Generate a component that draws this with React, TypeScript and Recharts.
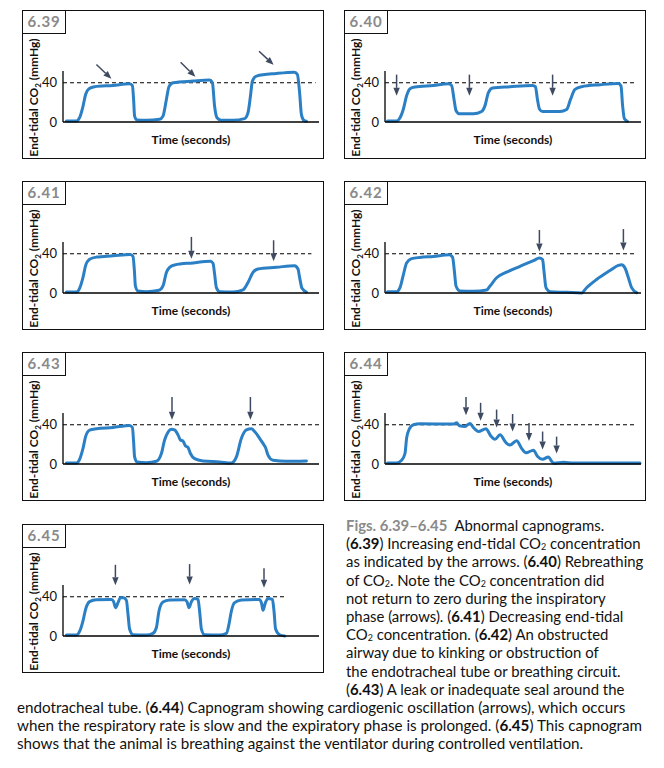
import React from "react";
import { LineChart, Line, XAxis, YAxis, ReferenceLine } from "recharts";

// capnogram traces: [time, end-tidal CO2 mmHg]
const trace639: [number, number][] = [
  [1.7, 1], [6.7, 1], [8.3, 4.4], [10, 16], [11.3, 28], [13, 34], [15.8, 36], [25, 37.3], [33.3, 39],
  [34.7, 37], [35.3, 23], [35.8, 6], [37, 2], [41.7, 1.7], [48.3, 2.7], [50, 6], [51.7, 23], [53, 36],
  [55, 40], [65, 41.7], [73.3, 42.7], [74.7, 40], [75.8, 16], [77, 4.4], [79.2, 1.7], [85, 1.7],
  [90.8, 3.4], [92.5, 9.5], [93.7, 26], [94.7, 41.7], [96.7, 46.8], [106.7, 49.5], [115.8, 50.8],
  [117.2, 48.5], [118.3, 30], [119.2, 7.8], [120.3, 2], [121.7, 0.7],
];
const trace640: [number, number][] = [
  [1.2, 1], [5.8, 1], [7.2, 3.3], [9.2, 13.3], [10.8, 26.7], [12.5, 34], [15, 35.7], [24.2, 37.3],
  [31.7, 39], [33.3, 37.3], [34.5, 23.3], [35.5, 11.7], [37.2, 8.3], [44.2, 8.3], [48.3, 10.7],
  [50, 16.7], [51.7, 30], [53.8, 34.7], [62.5, 36], [73.8, 37.3], [75.2, 36], [76.2, 23.3], [77.2, 13.3],
  [78.8, 10.7], [87.5, 10.7], [90.8, 12.7], [92.8, 23.3], [95, 33.3], [98.3, 36], [107.5, 38],
  [116.7, 39.3], [118, 36.7], [118.8, 16.7], [119.7, 3.3], [121.2, 0.7],
];
const trace641: [number, number][] = [
  [1.7, 1], [6.7, 1], [8.3, 4.8], [10, 15.9], [11.3, 27.9], [13.3, 34.5], [16.7, 36.6], [25, 37.9],
  [33.7, 39.3], [35, 37.2], [35.7, 22.8], [36.2, 7.2], [37.5, 2], [41.7, 1.4], [48, 2.8], [50, 7.2],
  [51.7, 21], [53.3, 26.2], [55.8, 28.6], [65, 30.7], [73.7, 32.4], [75, 30.3], [75.8, 19.3],
  [76.7, 5.5], [78.3, 1.4], [85, 1], [90, 3.1], [92.5, 10.7], [95, 21], [97.5, 24.5], [106.7, 26.2],
  [115.8, 27.9], [117.5, 24.5], [118.3, 15.9], [119.5, 4.8], [121.7, 1],
];
const trace642: [number, number][] = [
  [1.2, 1.3], [5.8, 1.3], [7.5, 5.4], [9.2, 18.8], [10.8, 30.6], [13.3, 35], [17.5, 36.3], [24.2, 37.3],
  [32.2, 39], [33.8, 36.3], [34.7, 22.2], [35.5, 7.1], [37.5, 2], [44.2, 1.7], [50.8, 3], [52.5, 7.1],
  [55.8, 15.5], [60.8, 21.2], [67.5, 27.2], [74.2, 32.9], [77.2, 35.6], [78.8, 34], [79.5, 22.2],
  [80.5, 5.4], [82.5, 1.3], [90.8, 0.7], [98.3, 0], [100.8, 5.4], [105.8, 13.8], [112.5, 22.9],
  [116.7, 28.2], [118.3, 28.9], [120, 25.5], [121.7, 15.5], [123.3, 5.4], [125.8, 0.3],
];
const trace643: [number, number][] = [
  [1.7, 1], [6.7, 1], [8.3, 4.8], [10, 15.9], [11.3, 27.9], [13.3, 34.5], [16.7, 35.9], [25, 37.2],
  [33.3, 39.3], [34.7, 37.2], [35.3, 22.8], [35.8, 7.2], [37, 2.1], [41.7, 1.4], [46.7, 2.8],
  [49.2, 10.7], [50.8, 24.5], [52.5, 32.4], [54.2, 35.5], [55.8, 34.8], [57.5, 29.7], [58.7, 24.5],
  [60, 23.4], [61.2, 18.6], [62.5, 16.9], [63.7, 10.7], [65.8, 5.5], [70, 3.1], [78.3, 2.1], [84.2, 1],
  [86.7, 7.2], [89.2, 26.2], [91.7, 34.8], [94.2, 35.9], [95.8, 33.1], [98.3, 26.2], [100, 21],
  [101.3, 16.6], [102.5, 9], [105, 3.8], [111.7, 2.8], [121.7, 3.1],
];
const trace644: [number, number][] = [
  [1.2, 1], [5.8, 1], [8.3, 3.8], [10, 10.7], [10.8, 26.2], [12.2, 35.9], [14.2, 40], [17.5, 41],
  [34.2, 40.7], [35.8, 42.1], [37.2, 39], [40, 38.3], [42.5, 41.4], [44.2, 37.2], [46.7, 33.1],
  [50.5, 35.9], [52.8, 28.9], [55, 25.2], [57.5, 29.7], [60.5, 21.7], [62.5, 19.3], [65.8, 23.8],
  [68.3, 15.9], [70.5, 11.4], [74.2, 14.1], [76.2, 7.9], [78.8, 4.8], [81.7, 7.2], [83.3, 2.8],
  [84.5, 0.7], [89.2, 1.7], [94.2, 1], [127.5, 1],
];
const trace645: [number, number][] = [
  [1.7, 1], [6.7, 1], [8.3, 4.7], [10, 15.5], [11.3, 27.2], [13.3, 35], [16.7, 37], [24.2, 37.3],
  [25.3, 35], [26.3, 28.9], [27.5, 34], [28.7, 39], [30.3, 39], [31.7, 36.3], [32.5, 22.2], [33.3, 7.1],
  [35, 1.3], [41.7, 1], [45, 2.7], [46.7, 8.7], [48, 25.5], [50, 34.6], [53.3, 36.6], [60.8, 37],
  [62, 35], [63, 28.9], [64.2, 35], [65.8, 38.3], [67.5, 37.3], [68.3, 25.5], [69.2, 7.1], [70.8, 1.3],
  [78.3, 1], [81.7, 2.7], [83, 12.1], [84.2, 25.5], [85.8, 34], [89.2, 36.6], [98, 37.3], [99.2, 34],
  [100, 26.2], [101.2, 34], [102.5, 38.3], [104.7, 37.3], [105.5, 25.5], [106.3, 7.1], [108.3, 1.3],
  [110.8, 0],
];

// arrows: [tailTime, tailCO2, tipTime, tipCO2]
const arrows639 = [[16.7, 58.6, 24.2, 44.1], [58.8, 61, 66.2, 46.1], [98, 72.2, 105.3, 58.3]];
const arrows640 = [[5.8, 48.3, 5.8, 26.7], [42.2, 48.3, 42.2, 26.7], [83.8, 48.3, 83.8, 26.7]];
const arrows641 = [[64.2, 57.2, 64.2, 34.8], [105.3, 53.8, 105.3, 32.4]];
const arrows642 = [[77.2, 64.2, 77.2, 42.4], [119.2, 65.2, 119.2, 43.4]];
const arrows643 = [[54.5, 68.3, 54.5, 45.2], [93.7, 68.3, 93.7, 45.2]];
const arrows644 = [
  [40.5, 68.3, 40.5, 49.7], [47.8, 62.4, 47.8, 44.1], [55.8, 55.5, 55.8, 37.2], [63.8, 51, 63.8, 33.1],
  [72, 41.7, 72, 23.4], [78.8, 33.1, 78.8, 14.8], [85.8, 27.9, 85.8, 10.7],
];
const arrows645 = [[26.2, 72.6, 26.2, 51.8], [63.3, 73.3, 63.3, 52.4], [100.5, 69.2, 100.5, 49.1]];

const yTicks = [0, 40];
const NORMAL_ETCO2 = 40;

const W = 302;
const H = 149;
const BLUE = "#2b80c5";
const ARROW = "#3e4a61";
const FONT = "Lato, 'Open Sans', sans-serif";

const ArrowShape = (props: any) => {
  const { x1, y1, x2, y2 } = props;
  const dx = x2 - x1;
  const dy = y2 - y1;
  const len = Math.sqrt(dx * dx + dy * dy) || 1;
  const ux = dx / len;
  const uy = dy / len;
  const hl = 8;
  const hw = 3.2;
  const bx = x2 - ux * hl;
  const by = y2 - uy * hl;
  return (
    <g>
      <line x1={x1} y1={y1} x2={bx} y2={by} stroke={ARROW} strokeWidth={1.5} />
      <polygon
        points={`${x2},${y2} ${bx - uy * hw},${by + ux * hw} ${bx + uy * hw},${by - ux * hw}`}
        fill={ARROW}
      />
    </g>
  );
};

const XLabel = (props: any) => {
  const vb = props.viewBox || { x: 41, y: 112, width: 256 };
  return (
    <text x={vb.x + vb.width / 2} y={vb.y + 21.5} textAnchor="middle" fontFamily={FONT} fontSize={12} fontWeight={700} fill="#111">
      Time (seconds)
    </text>
  );
};

const YLabel = (props: any) => {
  const vb = props.viewBox || { x: 11, y: 61, height: 51 };
  const x = 15.5;
  const y = vb.y + vb.height / 2 + 1;
  return (
    <text x={x} y={y} transform={`rotate(-90, ${x}, ${y})`} textAnchor="middle" fontFamily={FONT} fontSize={12} fontWeight={700} fill="#111">
      End-tidal CO<tspan fontSize={8} dy={3}>2</tspan>
      <tspan dy={-3}> (mmHg)</tspan>
    </text>
  );
};

function Panel({ name, trace, arrows, dashEnd, left, top }: any) {
  const data = trace.map(([t, v]: [number, number]) => ({ t, v }));
  return (
    <div style={{ position: "absolute", left, top, width: W, height: H }}>
      <LineChart width={W} height={H} data={data} margin={{ top: 61, right: 5, bottom: 0, left: 11 }}>
        <XAxis
          type="number"
          dataKey="t"
          domain={[0, 128]}
          tick={false}
          tickLine={false}
          axisLine={{ stroke: "#000", strokeWidth: 1.3 }}
          height={37}
          label={<XLabel />}
        />
        <YAxis
          type="number"
          domain={[0, 52]}
          ticks={yTicks}
          width={30}
          tickLine={false}
          tickSize={0}
          tickMargin={6}
          axisLine={{ stroke: "#000", strokeWidth: 1.3 }}
          tick={{ fill: "#111", fontSize: 13, fontFamily: FONT }}
          label={<YLabel />}
        />
        <ReferenceLine
          segment={[{ x: 0, y: NORMAL_ETCO2 }, { x: dashEnd, y: NORMAL_ETCO2 }]}
          stroke="#000"
          strokeWidth={1.2}
          strokeDasharray="4 3"
        />
        <Line
          type="monotone"
          dataKey="v"
          stroke={BLUE}
          strokeWidth={3}
          dot={false}
          strokeLinecap="round"
          strokeLinejoin="round"
          isAnimationActive={false}
        />
        {arrows.map((a: number[], i: number) => (
          <ReferenceLine
            key={i}
            segment={[{ x: a[0], y: a[1] }, { x: a[2], y: a[3] }]}
            ifOverflow="visible"
            shape={ArrowShape}
          />
        ))}
      </LineChart>
      <div style={{ position: "absolute", left: 0, top: 0, width: W, height: H, border: "1.5px solid #111", boxSizing: "border-box", pointerEvents: "none" }} />
      <div
        style={{
          position: "absolute", left: 0, top: 0, width: 44, height: 24, border: "1.5px solid #111",
          boxSizing: "border-box", background: "#fff", color: "#8a8a8a", fontFamily: FONT, fontWeight: 700,
          fontSize: 15, lineHeight: "21px", textAlign: "center", letterSpacing: 0.8,
        }}
      >
        {name}
      </div>
    </div>
  );
}

const B = ({ children }: any) => (
  <span>
    (<b>{children}</b>)
  </span>
);
const Sub2 = () => <span style={{ fontSize: "0.6em", position: "relative", top: 1.2 }}>2</span>;

const captionRight = [
  <>
    <b style={{ color: "#8a8a8a" }}>Figs. 6.39–6.45</b>&nbsp; Abnormal capnograms.
  </>,
  <>
    <B>6.39</B> Increasing end-tidal CO<Sub2 /> concentration
  </>,
  <>
    as indicated by the arrows. <B>6.40</B> Rebreathing
  </>,
  <>
    of CO<Sub2 />. Note the CO<Sub2 /> concentration did
  </>,
  <>not return to zero during the inspiratory</>,
  <>
    phase (arrows). <B>6.41</B> Decreasing end-tidal
  </>,
  <>
    CO<Sub2 /> concentration. <B>6.42</B> An obstructed
  </>,
  <>airway due to kinking or obstruction of</>,
  <>the endotracheal tube or breathing circuit.</>,
  <>
    <B>6.43</B> A leak or inadequate seal around the
  </>,
];
const captionFull = [
  <>
    endotracheal tube. <B>6.44</B> Capnogram showing cardiogenic oscillation (arrows), which occurs
  </>,
  <>
    when the respiratory rate is slow and the expiratory phase is prolonged. <B>6.45</B> This capnogram
  </>,
  <>shows that the animal is breathing against the ventilator during controlled ventilation.</>,
];

const lineStyle = (left: number, top: number, size: number): React.CSSProperties => ({
  position: "absolute",
  left,
  top,
  height: 18,
  lineHeight: "18px",
  whiteSpace: "nowrap",
  fontFamily: FONT,
  fontSize: size,
  color: "#111",
});

export default function App() {
  return (
    <div style={{ position: "absolute", left: 0, top: 0, width: 664, height: 768, background: "#fff", overflow: "hidden" }}>
      <Panel name="6.39" trace={trace639} arrows={arrows639} dashEnd={126.3} left={22} top={10} />
      <Panel name="6.40" trace={trace640} arrows={arrows640} dashEnd={125} left={344} top={10} />
      <Panel name="6.41" trace={trace641} arrows={arrows641} dashEnd={124.2} left={22} top={181} />
      <Panel name="6.42" trace={trace642} arrows={arrows642} dashEnd={125} left={344} top={181} />
      <Panel name="6.43" trace={trace643} arrows={arrows643} dashEnd={128} left={22} top={352} />
      <Panel name="6.44" trace={trace644} arrows={arrows644} dashEnd={126} left={344} top={352} />
      <Panel name="6.45" trace={trace645} arrows={arrows645} dashEnd={111.7} left={22} top={524} />
      {captionRight.map((c, i) => (
        <div key={"r" + i} style={lineStyle(346, 516 + i * 18.2, 14.9)}>
          {c}
        </div>
      ))}
      {captionFull.map((c, i) => (
        <div key={"f" + i} style={lineStyle(17, 516 + (10 + i) * 18.2, 15.2)}>
          {c}
        </div>
      ))}
    </div>
  );
}
